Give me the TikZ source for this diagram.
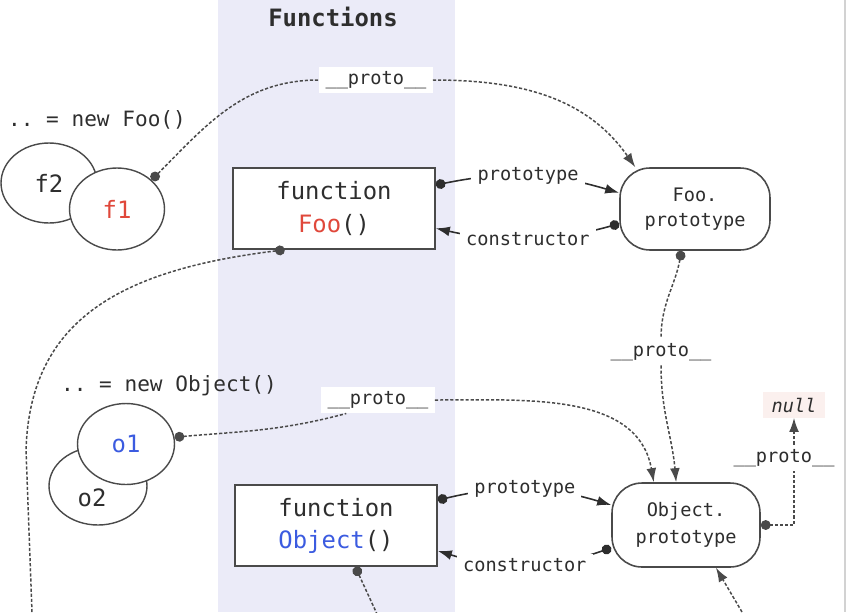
\documentclass[tikz,border=0pt]{standalone}
\usepackage{fontspec}
\setmainfont{DejaVu Sans}
\setmonofont{DejaVu Sans Mono}
\usetikzlibrary{arrows.meta,shapes.geometric}
\definecolor{band}{HTML}{EBEBF8}
\definecolor{fooRed}{HTML}{E0483B}
\definecolor{objBlue}{HTML}{3B5BE0}
\definecolor{ink}{HTML}{2E2E2E}
\definecolor{edge}{HTML}{4A4A4A}
\definecolor{nullbg}{HTML}{FBF0EE}
\tikzset{
  big/.style={font=\ttfamily\fontsize{13.6}{19}\selectfont},
  mid/.style={font=\ttfamily\fontsize{12}{14}\selectfont},
  small/.style={font=\ttfamily\fontsize{10.6}{14.2}\selectfont},
  inst/.style={ellipse,draw=edge,fill=white,line width=0.8pt,big,text=ink,inner sep=0pt},
  funcbox/.style={rectangle,draw=edge,fill=white,line width=0.9pt,big,text=ink,align=center,minimum width=4.04cm,minimum height=1.62cm},
  protobox/.style={rectangle,rounded corners=0.6cm,draw=edge,fill=white,line width=0.9pt,small,text=ink,align=center,minimum width=3cm,minimum height=1.64cm},
  lbl/.style={small,text=ink,fill=white,inner xsep=3.5pt,inner ysep=2.5pt},
  ptr/.style={draw=edge,line width=0.85pt,dash pattern=on 1.8pt off 1.1pt},
  ptrstart/.style={{Circle[length=5.6pt]}-},
  ptrend/.style={-{Latex[length=8pt,width=5.6pt]}},
  link/.style={draw=ink,line width=0.9pt,{Circle[length=5.6pt]}-{Latex[length=8pt,width=5.6pt]}},
}
\begin{document}
\begin{tikzpicture}[x=0.02cm,y=0.02cm]
        \useasboundingbox (0,0) rectangle (847,-612);
        %% functions band
        \fill[band] (218,0) rectangle (455,-612);
        \draw[gray!35,line width=1pt] (845,0) -- (845,-612);
        \node[big,text=ink,font=\ttfamily\bfseries\fontsize{13.6}{19}\selectfont] (title) at (333,-17) {Functions};
        %% instances of Foo
        \node[mid,text=ink] (newfoo) at (97,-120) {.. = new Foo()};
        \node[inst,minimum width=1.92cm,minimum height=1.6cm] (f2) at (49,-183) {f2};
        \node[inst,minimum width=1.9cm,minimum height=1.64cm] (f1) at (117,-209) {\color{fooRed}f1};
        %% instances of Object
        \node[mid,text=ink] (newobj) at (169,-386) {.. = new Object()};
        \node[inst,minimum width=1.96cm,minimum height=1.56cm,label={[big,text=ink,shift={(-6,-12)}]center:o2}] (o2) at (98,-486) {};
        \node[inst,minimum width=1.94cm,minimum height=1.62cm] (o1) at (126,-444) {\color{objBlue}o1};
        %% functions
        \node[funcbox] (foo) at (334,-208.5) {function\\{\color{fooRed}Foo}()};
        \node[funcbox,font=\ttfamily\fontsize{13.6}{18.2}\selectfont] (obj) at (336,-525.5) {function\\{\color{objBlue}Object}()};
        %% prototypes
        \node[protobox] (fooproto) at (695,-209) {Foo.\\prototype};
        \node[protobox,minimum width=2.96cm,minimum height=1.68cm,font=\ttfamily\fontsize{10.6}{15.3}\selectfont] (objproto) at (686,-525) {Object.\\prototype};
        \node[small,text=ink,fill=nullbg,font=\ttfamily\itshape\fontsize{10.6}{14.2}\selectfont,inner xsep=5pt,inner ysep=3pt] (nul) at (794,-405) {null};
        %% __proto__ labels
        \node[lbl] (p1) at (376,-80) {\_\_proto\_\_};
        \node[lbl] (p2) at (378,-400) {\_\_proto\_\_};
        \node[lbl] (p3) at (661,-352) {\_\_proto\_\_};
        \node[lbl] (p4) at (784,-458) {\_\_proto\_\_};
        %% loose ends at the border
        \coordinate (exitfoo) at (32,-612);
        \coordinate (exitobj) at (377,-614);
        \coordinate (exitop) at (742,-612);
        %% prototype / constructor
        \draw[link] (foo.13) to[bend left=14] node[lbl]{prototype} (fooproto.168);
        \draw[link] (fooproto.191) to[bend left=14] node[lbl]{constructor} (foo.-11);
        \draw[link] (obj.14) to[bend left=15] node[lbl]{prototype} (objproto.165);
        \draw[link] (objproto.197) to[bend left=18] node[lbl]{constructor} (obj.-14);
        %% __proto__ chains
        \draw[ptr,ptrstart] (f1.40) to[out=45,in=180] (p1.west);
        \draw[ptr,ptrend] (p1.east) to[out=0,in=125] (fooproto.145);
        \draw[ptr,ptrstart] (fooproto.252) to[out=-100,in=90] (p3.north);
        \draw[ptr,ptrend] (p3.south) to[out=-90,in=95] (objproto.103);
        \draw[ptr,ptrstart] (o1.8) to[out=5,in=195] (p2.203);
        \draw[ptr,ptrend] (p2.east) to[out=0,in=100] (objproto.127);
        \draw[ptr,ptrstart] (objproto.east) -| (p4.south -| nul.south);
        \draw[ptr,ptrend] (p4.north -| nul.south) -- (nul.south);
        \draw[ptr,ptrstart] (foo.220) .. controls (120,-270) and (30,-320) .. (26,-450) -- (exitfoo);
        \draw[ptr,ptrstart] (obj.295) -- (exitobj);
        \draw[ptr,ptrend] (exitop) -- (objproto.-55);
    \end{tikzpicture}
\end{document}
